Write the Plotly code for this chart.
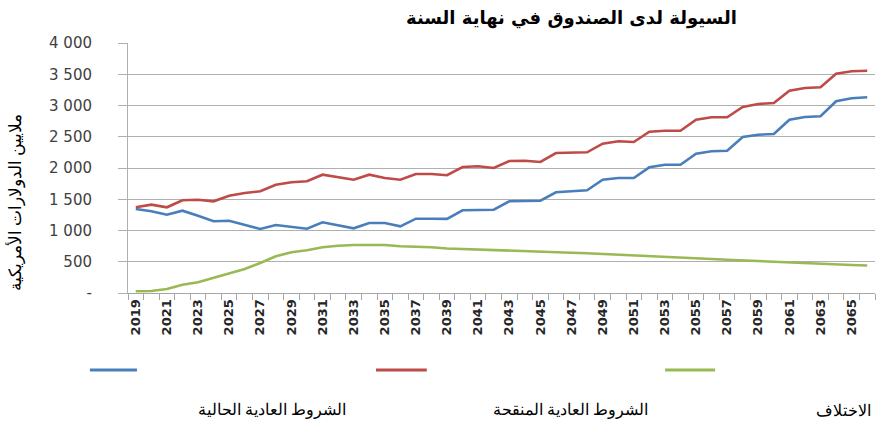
import plotly.graph_objects as go

years = list(range(2019, 2067))

current_terms = [1344, 1307, 1253, 1317, 1237, 1147, 1157, 1093, 1024, 1088,
                 1056, 1029, 1131, 1083, 1035, 1120, 1120, 1067, 1189, 1189,
                 1186, 1323, 1333, 1333, 1467, 1477, 1477, 1611, 1627, 1643,
                 1813, 1840, 1840, 2011, 2053, 2053, 2229, 2267, 2277, 2496,
                 2533, 2544, 2773, 2816, 2827, 3067, 3115, 3131]

revised_terms = [1371, 1413, 1371, 1483, 1493, 1467, 1557, 1600, 1627, 1733,
                 1771, 1787, 1893, 1851, 1813, 1893, 1840, 1813, 1904, 1904,
                 1885, 2016, 2027, 2000, 2112, 2117, 2096, 2240, 2240, 2251,
                 2389, 2427, 2416, 2581, 2597, 2597, 2773, 2811, 2811, 2976,
                 3024, 3040, 3237, 3280, 3291, 3509, 3547, 3557]

difference = [27, 32, 64, 133, 171, 240, 309, 384, 480, 587,
              651, 683, 731, 757, 768, 773, 768, 747, 741, 731,
              712, 705, 698, 690, 682, 673, 665, 655, 645, 635,
              625, 615, 603, 590, 580, 568, 555, 543, 532, 520,
              508, 497, 487, 477, 467, 457, 447, 440]

y_ticks = [0, 500, 1000, 1500, 2000, 2500, 3000, 3500, 4000]
y_tick_text = ["-", "500", "1 000", "1 500", "2 000", "2 500", "3 000", "3 500", "4 000"]
x_label_years = [y for y in years if (y - 2019) % 2 == 0]

title = "السيولة لدى الصندوق في نهاية السنة"
y_title = "ملايين الدولارات الأمريكية"
names = ["الشروط العادية الحالية", "الشروط العادية المنقحة", "الاختلاف"]
colors = ["#4a7ebb", "#be4b48", "#98b954"]
series = [current_terms, revised_terms, difference]

fig = go.Figure()
for name, vals, col in zip(names, series, colors):
    fig.add_trace(go.Scatter(x=years, y=vals, mode="lines", name=name,
                             line=dict(color=col, width=2.6), showlegend=False))

fig.update_layout(
    width=886, height=423,
    margin=dict(l=128, r=11, t=43, b=130),
    paper_bgcolor="white", plot_bgcolor="white",
    font=dict(family="DejaVu Sans", color="#404040"),
)

fig.update_xaxes(
    range=[years[0] - 0.5, years[-1] + 0.5],
    tickvals=x_label_years, ticktext=[str(y) for y in x_label_years],
    tickangle=-90, ticks="", showgrid=False,
    tickfont=dict(family="DejaVu Sans", size=13, color="#262626", weight="bold"),
    showline=True, linecolor="#a6a6a6", linewidth=1,
    minor=dict(tickvals=[y - 0.5 for y in years] + [years[-1] + 0.5],
               ticks="outside", ticklen=6, tickcolor="#a6a6a6", showgrid=False),
    zeroline=False,
)
fig.update_yaxes(
    range=[0, 4000], tickvals=y_ticks, ticktext=y_tick_text,
    showgrid=True, gridcolor="#b0b0b0", gridwidth=1,
    ticks="outside", ticklen=9, tickcolor="#b0b0b0",
    ticklabelstandoff=23,
    tickfont=dict(family="DejaVu Sans", size=15, color="#404040"),
    showline=True, linecolor="#b0b0b0", linewidth=1, zeroline=False,
)

annotations = [
    dict(text="<b>" + title + "</b>", xref="paper", yref="paper", x=0.594, y=1.1,
         xanchor="center", yanchor="middle", showarrow=False,
         font=dict(family="DejaVu Sans", size=18, color="black")),
    dict(text=y_title, xref="paper", yref="paper", x=-0.151, y=0.364,
         xanchor="center", yanchor="middle", textangle=-90, showarrow=False,
         font=dict(family="Liberation Serif", size=17, color="black")),
]
label_x = [0.193, 0.592, 0.958]
line_x = [(-0.051, 0.012), (0.332, 0.400), (0.719, 0.786)]
shapes = []
for name, col, lx, (x0, x1) in zip(names, colors, label_x, line_x):
    annotations.append(dict(text=name, xref="paper", yref="paper", x=lx, y=-0.468,
                            xanchor="center", yanchor="middle", showarrow=False,
                            font=dict(family="Liberation Serif", size=16, color="black")))
    shapes.append(dict(type="line", xref="paper", yref="paper", x0=x0, x1=x1,
                       y0=-0.308, y1=-0.308, line=dict(color=col, width=3)))

fig.update_layout(annotations=annotations, shapes=shapes)
fig.write_html("out.html", config={"displayModeBar": False},
               post_script="document.body.style.margin='0';document.body.style.padding='0';")
